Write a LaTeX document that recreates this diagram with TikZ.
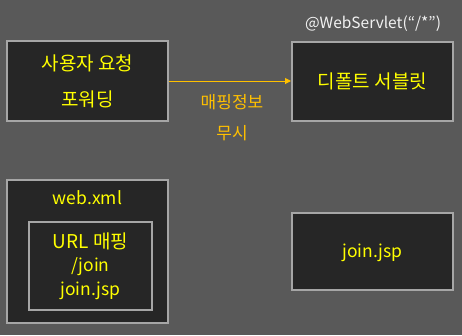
\documentclass[tikz,border=0pt]{standalone}
\usepackage{fontspec}
\setmainfont{Noto Sans CJK KR}
\usetikzlibrary{arrows.meta}
\definecolor{bgcol}{HTML}{595959}
\definecolor{boxcol}{HTML}{262626}
\definecolor{edgecol}{HTML}{A6A6A6}
\definecolor{txtcol}{HTML}{FFFF00}
\definecolor{arrcol}{HTML}{FFC000}
\newcommand{\latinsize}{\fontsize{17.5}{21}\selectfont}
\begin{document}
\begin{tikzpicture}[x=1pt,y=-1pt,
    box/.style={draw=edgecol, fill=boxcol, line width=2pt, inner sep=0pt},
    label/.style={text=txtcol, font=\fontsize{19}{22}\selectfont, align=center},
    latin/.style={label, font=\latinsize}]
    \fill[bgcol] (0,0) rectangle (462,335);
    \useasboundingbox (0,0) rectangle (462,335);
    % upper row
    \node[box, minimum width=161pt, minimum height=80pt] (request) at (87.5,81) {};
    \node[label] (reqA) at (87.5,63) {사용자 요청};
    \node[label] (reqB) at (87.5,99) {포워딩};
    \node[box, minimum width=161pt, minimum height=79pt] (default) at (372.5,81.5) {};
    \node[label] (defText) at (372.5,81.5) {디폴트 서블릿};
    \node[text=white!95!black, font=\fontsize{15.5}{18}\selectfont] (anno) at (373,24) {@WebServlet(“/*”)};
    \draw[arrcol, line width=1pt, -{Triangle[length=6pt,width=6pt]}] (request.east |- 0,81) -- (default.west |- 0,81);
    \node[label, text=arrcol, font=\fontsize{17}{20}\selectfont] (mapA) at (232,102) {매핑정보};
    \node[label, text=arrcol, font=\fontsize{17}{20}\selectfont] (mapB) at (232,133) {무시};
    % lower row
    \node[box, minimum width=161pt, minimum height=143pt] (webxml) at (87.5,251.5) {};
    \node[latin] (xmlText) at (87.5,198) {web.xml};
    \node[box, minimum width=123pt, minimum height=88pt] (mapping) at (90.5,266) {};
    \node[label, font=\fontsize{19}{23.5}\selectfont] (mapText) at (90.5,266) {URL 매핑\\{\latinsize /join}\\{\latinsize join.jsp}};
    \node[box, minimum width=161pt, minimum height=77pt] (jsp) at (372.5,251.5) {};
    \node[latin] (jspText) at (372.5,253) {join.jsp};
\end{tikzpicture}
\end{document}
